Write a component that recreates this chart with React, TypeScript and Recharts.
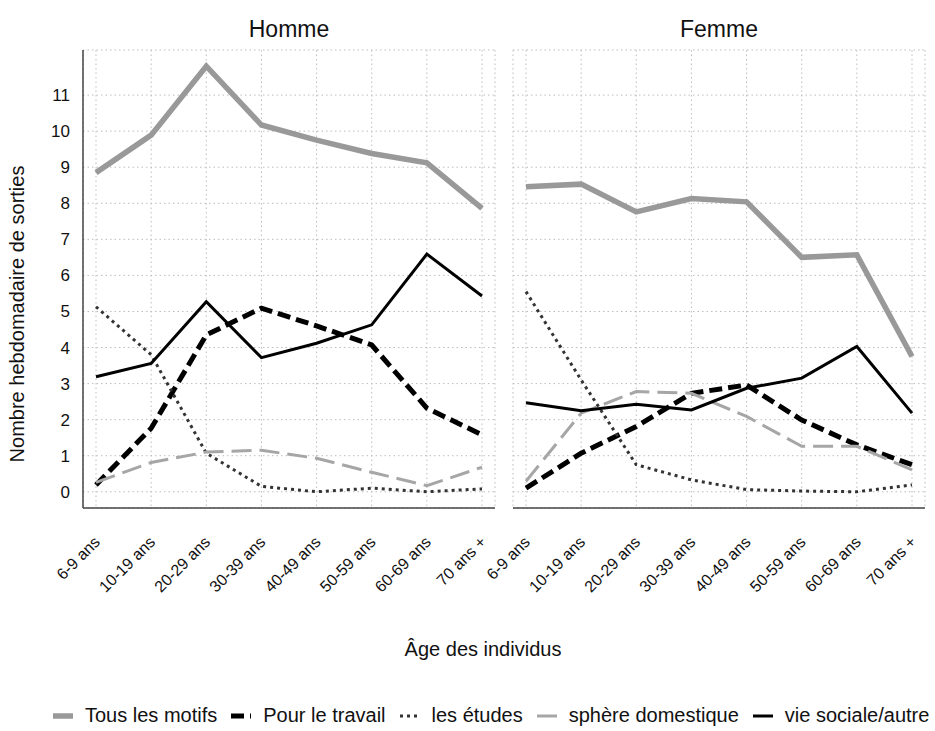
import React from "react";
import { LineChart, Line, XAxis, YAxis, CartesianGrid } from "recharts";

const ageGroups = [
  "6-9 ans",
  "10-19 ans",
  "20-29 ans",
  "30-39 ans",
  "40-49 ans",
  "50-59 ans",
  "60-69 ans",
  "70 ans +",
];

const yTicks = [0, 1, 2, 3, 4, 5, 6, 7, 8, 9, 10, 11];

// Homme
const hommeTous = [8.85, 9.89, 11.8, 10.17, 9.75, 9.38, 9.12, 7.86];
const hommeTravail = [0.19, 1.76, 4.35, 5.09, 4.6, 4.07, 2.32, 1.58];
const hommeEtudes = [5.13, 3.8, 1.07, 0.15, 0.0, 0.1, 0.0, 0.08];
const hommeDomestique = [0.26, 0.81, 1.1, 1.15, 0.93, 0.54, 0.17, 0.68];
const hommeSociale = [3.19, 3.56, 5.27, 3.72, 4.12, 4.63, 6.59, 5.43];

// Femme
const femmeTous = [8.46, 8.53, 7.76, 8.13, 8.04, 6.5, 6.57, 3.75];
const femmeTravail = [0.1, 1.07, 1.81, 2.73, 2.96, 1.99, 1.3, 0.75];
const femmeEtudes = [5.55, 3.1, 0.75, 0.33, 0.06, 0.02, 0.0, 0.19];
const femmeDomestique = [0.29, 2.18, 2.78, 2.73, 2.09, 1.26, 1.26, 0.61];
const femmeSociale = [2.47, 2.25, 2.43, 2.27, 2.87, 3.15, 4.03, 2.18];

type TSeries = {
  key: string;
  name: string;
  stroke: string;
  width: number;
  dash?: string;
};

const series: TSeries[] = [
  { key: "tous", name: "Tous les motifs", stroke: "#999999", width: 5.5 },
  { key: "travail", name: "Pour le travail", stroke: "#000000", width: 5, dash: "13 6" },
  { key: "etudes", name: "les études", stroke: "#333333", width: 3, dash: "3 4" },
  { key: "domestique", name: "sphère domestique", stroke: "#a6a6a6", width: 3, dash: "20 8" },
  { key: "sociale", name: "vie sociale/autre", stroke: "#000000", width: 3 },
];

const buildRows = (
  tous: number[],
  travail: number[],
  etudes: number[],
  domestique: number[],
  sociale: number[]
) =>
  ageGroups.map((age, i) => ({
    age,
    tous: tous[i],
    travail: travail[i],
    etudes: etudes[i],
    domestique: domestique[i],
    sociale: sociale[i],
  }));

const hommeData = buildRows(hommeTous, hommeTravail, hommeEtudes, hommeDomestique, hommeSociale);
const femmeData = buildRows(femmeTous, femmeTravail, femmeEtudes, femmeDomestique, femmeSociale);

const FONT = "'Liberation Sans', Arial, Helvetica, sans-serif";

const AgeTick = (props: any) => {
  const { x, y, payload } = props;
  const ax = x + 5;
  const ay = y + 27;
  return (
    <text
      x={ax}
      y={ay}
      textAnchor="end"
      fontSize={16}
      fill="#111"
      fontFamily={FONT}
      transform={`rotate(-45 ${ax} ${ay})`}
    >
      {payload.value}
    </text>
  );
};

type TPanelProps = {
  data: any[];
  showY: boolean;
  width: number;
  margin: { top: number; right: number; left: number; bottom: number };
};

const Panel = ({ data, showY, width, margin }: TPanelProps) => (
  <LineChart width={width} height={600} data={data} margin={margin}>
    <CartesianGrid stroke="#bdbdbd" strokeDasharray="1.5 3" />
    <XAxis
      dataKey="age"
      height={92}
      padding={{ left: 13, right: 13 }}
      axisLine={{ stroke: "#444", strokeWidth: 1.5 }}
      tickLine={false}
      tick={<AgeTick />}
      interval={0}
    />
    <YAxis
      hide={!showY}
      width={83}
      domain={[-0.45, 12.25]}
      ticks={yTicks}
      allowDataOverflow
      axisLine={{ stroke: "#444", strokeWidth: 1.5 }}
      tickLine={false}
      tickMargin={7}
      tick={{ fontSize: 17, fill: "#111", fontFamily: FONT }}
    />
    {series.map((s) => (
      <Line
        key={s.key}
        dataKey={s.key}
        name={s.name}
        stroke={s.stroke}
        strokeWidth={s.width}
        strokeDasharray={s.dash}
        dot={false}
        activeDot={false}
        isAnimationActive={false}
        type="linear"
      />
    ))}
  </LineChart>
);

const LegendIcon = ({ s }: { s: TSeries }) => (
  <svg width={22} height={12} style={{ display: "block" }}>
    <line
      x1={1}
      y1={6}
      x2={21}
      y2={6}
      stroke={s.stroke}
      strokeWidth={s.width}
      strokeDasharray={s.dash}
    />
  </svg>
);

export default function App() {
  return (
    <div
      style={{
        position: "absolute",
        left: 0,
        top: 0,
        width: 935,
        height: 731,
        background: "#fff",
        fontFamily: FONT,
        color: "#111",
      }}
    >
      <div style={{ position: "absolute", left: 189, width: 200, top: 16, textAlign: "center", fontSize: 23 }}>
        Homme
      </div>
      <div style={{ position: "absolute", left: 619, width: 200, top: 16, textAlign: "center", fontSize: 23 }}>
        Femme
      </div>
      <div
        style={{
          position: "absolute",
          left: 17,
          top: 314,
          fontSize: 20,
          whiteSpace: "nowrap",
          transform: "translate(-50%, -50%) rotate(-90deg)",
        }}
      >
        Nombre hebdomadaire de sorties
      </div>
      <div style={{ position: "absolute", left: 0, top: 0 }}>
        <Panel data={hommeData} showY width={500} margin={{ top: 50, right: 5, left: 0, bottom: 0 }} />
      </div>
      <div style={{ position: "absolute", left: 460, top: 0 }}>
        <Panel data={femmeData} showY={false} width={475} margin={{ top: 50, right: 10, left: 53, bottom: 0 }} />
      </div>
      <div style={{ position: "absolute", left: 383, width: 200, top: 638, textAlign: "center", fontSize: 20 }}>
        Âge des individus
      </div>
      <div
        style={{
          position: "absolute",
          left: 52,
          top: 704,
          display: "flex",
          alignItems: "center",
          fontSize: 20,
          whiteSpace: "nowrap",
        }}
      >
        {series.map((s) => (
          <div key={s.key} style={{ display: "flex", alignItems: "center", marginRight: 13 }}>
            <LegendIcon s={s} />
            <span style={{ marginLeft: 11 }}>{s.name}</span>
          </div>
        ))}
      </div>
    </div>
  );
}
